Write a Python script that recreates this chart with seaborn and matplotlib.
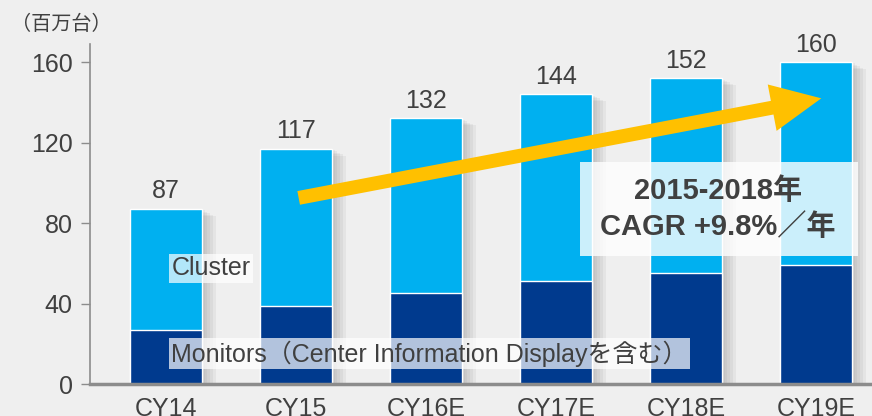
import matplotlib
matplotlib.use('Agg')
import matplotlib.pyplot as plt
import matplotlib.patheffects as pe
from matplotlib.patches import Rectangle
import seaborn as sns

# data
years = ['CY14', 'CY15', 'CY16E', 'CY17E', 'CY18E', 'CY19E']
totals = [87, 117, 132, 144, 152, 160]
monitors = [27, 39, 45, 51, 55, 59]
yticks = [0, 40, 80, 120, 160]

cyan = '#00B0F0'
navy = '#003A8E'
txt = '#404040'
bg = '#efefef'

sns.set_theme(style='white')
plt.rcParams['font.family'] = ['Liberation Sans', 'Noto Sans CJK JP']

fig = plt.figure(figsize=(8.72, 4.16), dpi=100, facecolor=bg)
ax = fig.add_axes([90 / 872, 32 / 416, 782 / 872, 340 / 416])
ax.set_facecolor(bg)

# soft drop shadow (a few stacked faint offsets)
shadow = [pe.SimplePatchShadow(offset=(d, -d * 0.5), shadow_rgbFace='#808080', alpha=0.09)
          for d in (2, 4, 6, 8, 10)] + [pe.Normal()]

# stacked bars: total (cluster on top) then monitors at the bottom
sns.barplot(x=years, y=totals, color=cyan, width=0.55, saturation=1, ax=ax)
sns.barplot(x=years, y=monitors, color=navy, width=0.55, saturation=1, ax=ax)
for p in ax.containers[0]:
    p.set_path_effects(shadow)

ax.bar_label(ax.containers[0], labels=[str(v) for v in totals], padding=4,
             fontsize=18, color=txt)

ax.set_xlim(-0.585, 5.43)
ax.set_ylim(0, 169)
ax.set_yticks(yticks)
ax.set_xlabel('')
ax.set_ylabel('')

for s in ['top', 'right']:
    ax.spines[s].set_visible(False)
ax.spines['left'].set_color('#8c8c8c')
ax.spines['left'].set_linewidth(1.2)
ax.spines['bottom'].set_color('#8c8c8c')
ax.spines['bottom'].set_linewidth(2.5)

ax.tick_params(axis='y', length=6.5, width=1, color='#8c8c8c', labelsize=18,
               labelcolor=txt, pad=6, left=True)
ax.tick_params(axis='x', length=0, labelsize=18, labelcolor=txt, pad=9.5)

# growth arrow
ax.annotate('', xy=(5.04, 142), xytext=(1.02, 92.5),
            arrowprops=dict(arrowstyle='simple,head_length=3.6,head_width=3.4,tail_width=1.0',
                            mutation_scale=10, color='#FFC000', lw=0,
                            shrinkA=0, shrinkB=0), zorder=5)

# CAGR box
ax.add_patch(Rectangle((0.6266, 0.3765), 0.3555, 0.2765, transform=ax.transAxes,
                       fc='white', ec='none', alpha=0.8, zorder=6))
ax.text(4.245, 87, '2015-2018年\nCAGR +9.8%／年', ha='center', va='center',
        fontsize=21, fontweight='bold', color=txt, linespacing=1.4, zorder=7)

# series labels
ax.text(0.04, 57.5, 'Cluster', ha='left', va='center', fontsize=18, color=txt,
        zorder=6, bbox=dict(boxstyle='square,pad=0.1', fc='white', ec='none', alpha=0.7))
ax.text(0.04, 15.2, 'Monitors（Center Information Displayを含む）', ha='left',
        va='center', fontsize=18, color=txt, zorder=6,
        bbox=dict(boxstyle='square,pad=0.1', fc='white', ec='none', alpha=0.7))

fig.text(11 / 872, 1 - 24 / 416, '（百万台）', ha='left', va='center', fontsize=14.5, color=txt)

fig.savefig('out.png', dpi=100, facecolor=bg)
